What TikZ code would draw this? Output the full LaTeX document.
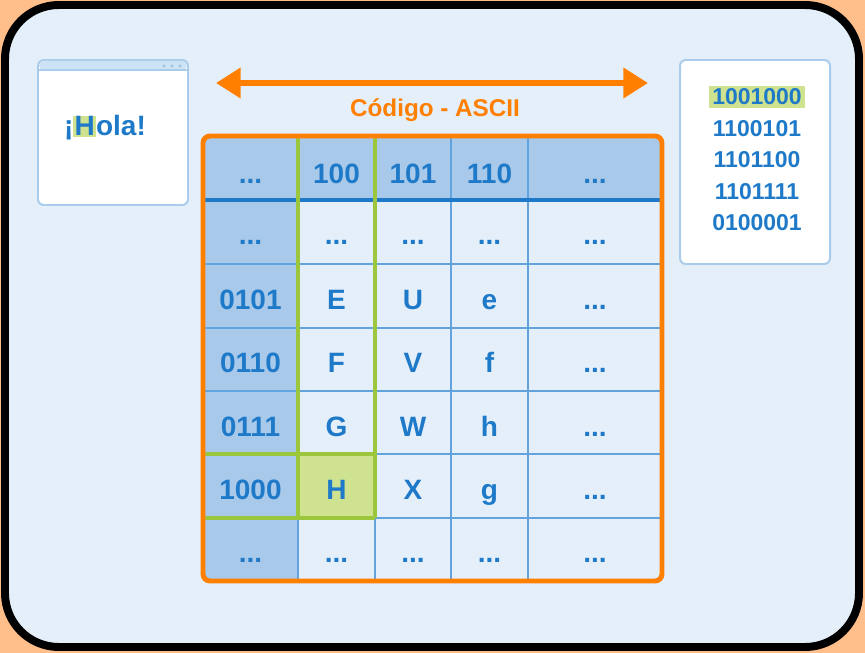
\documentclass[tikz,border=0pt]{standalone}
\usepackage{fontspec}
\setmainfont{Liberation Sans}
\usetikzlibrary{arrows.meta}

\definecolor{pagebg}{HTML}{FFBE8A}
\definecolor{panel}{HTML}{E4EFFA}
\definecolor{headblue}{HTML}{A8C9EA}
\definecolor{gridblue}{HTML}{62A3DD}
\definecolor{textblue}{HTML}{1E7AC8}
\definecolor{asciiorange}{HTML}{FF7F00}
\definecolor{selgreen}{HTML}{9CC73D}
\definecolor{hlgreen}{HTML}{CFE290}
\definecolor{winline}{HTML}{A9CCEC}
\definecolor{winbar}{HTML}{CCE3F6}
\definecolor{windot}{HTML}{A3C1DE}

\newcommand{\elip}{...}
\newcommand{\hilite}[2]{{\setlength{\fboxsep}{#1}\colorbox{hlgreen}{#2}}}

\begin{document}
\begin{tikzpicture}[x=0.03cm,y=-0.03cm,
  celltext/.style={font=\fontsize{23.9}{28}\selectfont\bfseries, text=textblue, anchor=base, inner sep=0pt},
  bintext/.style={font=\fontsize{19.6}{23}\selectfont\bfseries, text=textblue, anchor=base, inner sep=0pt},
  gridline/.style={gridblue, line width=1.2pt},
  headline/.style={textblue, line width=3.4pt},
  selline/.style={selgreen, line width=2.6pt},
  tableframe/.style={asciiorange, line width=4.2pt, rounded corners=6},
  window/.style={winline, line width=1.7pt, fill=white, rounded corners=5}]

\useasboundingbox (0,0) rectangle (865,653);
\fill[pagebg] (0,0) rectangle (865,653);
\draw[line width=6.8pt, fill=panel, rounded corners=46] (5,5) rectangle (859,647);

\begin{scope}
\draw[window] (38,60) rectangle (188,205);
\fill[winbar, rounded corners=4] (39,61) rectangle (187,70);
\draw[winline, line width=1.2pt] (39,70) -- (187,70);
\foreach \x in {164,172,180} \fill[windot] (\x,66) circle (1.6);
\node[celltext] (hola) at (105,136) {¡\hilite{1pt}{H}ola!};
\end{scope}

\begin{scope}
\draw[window] (680,60) rectangle (830,264);
\node[bintext] (bin1) at (757,105) {\hilite{2.5pt}{1001000}};
\foreach \bits/\yb [count=\i from 2] in {1100101/137,1101100/168,1101111/200,0100001/231}
  \node[bintext] (bin\i) at (757,\yb) {\bits};
\end{scope}

\coordinate (arrowl) at (216,83);
\coordinate (arrowr) at (648,83);
\draw[asciiorange, line width=5pt, {Triangle[length=21pt,width=25pt]}-{Triangle[length=21pt,width=25pt]}] (arrowl) -- (arrowr);
\node[font=\fontsize{20.7}{24}\selectfont\bfseries, text=asciiorange] (title) at (435,110) {Código - ASCII};

\begin{scope}
\coordinate (tl) at (203,136);
\coordinate (br) at (662,581);
\fill[panel] (tl) rectangle (br);
\fill[headblue] (203,136) rectangle (662,200);
\fill[headblue] (203,136) rectangle (298,581);
\fill[hlgreen] (298,454) rectangle (375,518);
\foreach \x in {298,375,451,528} \draw[gridline] (\x,136) -- (\x,581);
\foreach \y in {264,328,391,454,518} \draw[gridline] (203,\y) -- (662,\y);
\draw[headline] (203,200) -- (662,200);
\draw[selline] (298,136) -- (298,518) (375,136) -- (375,518)
  (203,454) -- (375,454) (203,518) -- (375,518);
\draw[tableframe] (tl) rectangle (br);
\end{scope}

\foreach \yb/\a/\b/\c/\d/\e [count=\r] in {
  184/\elip/100/101/110/\elip,
  245/\elip/\elip/\elip/\elip/\elip,
  309/0101/E/U/e/\elip,
  372/0110/F/V/f/\elip,
  436/0111/G/W/h/\elip,
  499/1000/H/X/g/\elip,
  562/\elip/\elip/\elip/\elip/\elip}
{
  \node[celltext] (c\r-1) at (250.5,\yb) {\a};
  \node[celltext] (c\r-2) at (336.5,\yb) {\b};
  \node[celltext] (c\r-3) at (413,\yb) {\c};
  \node[celltext] (c\r-4) at (489.5,\yb) {\d};
  \node[celltext] (c\r-5) at (595,\yb) {\e};
}

\end{tikzpicture}
\end{document}
